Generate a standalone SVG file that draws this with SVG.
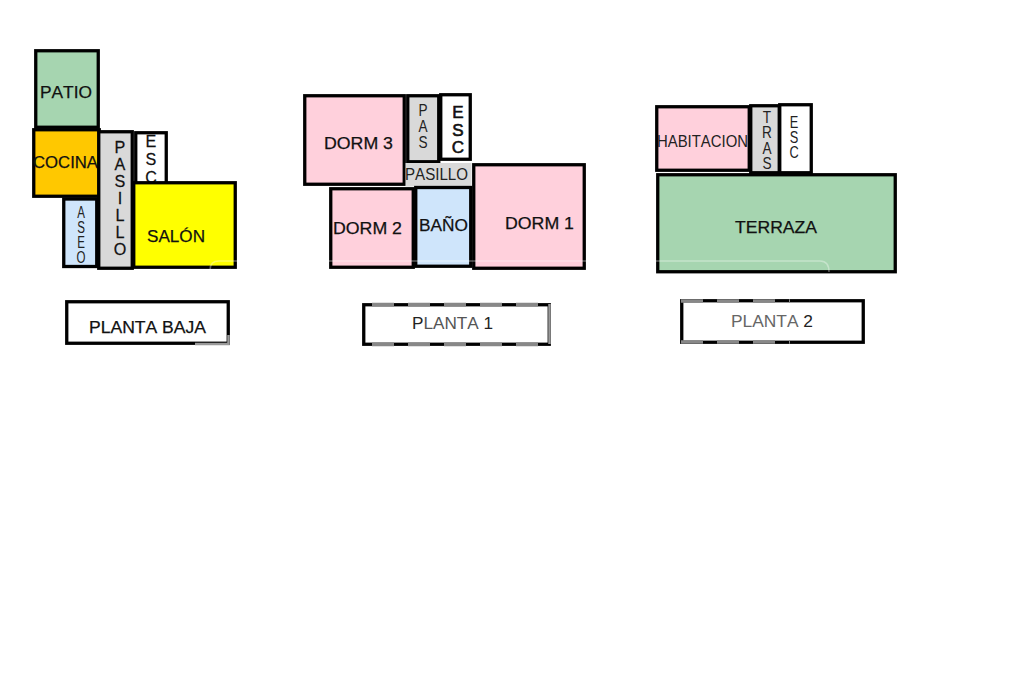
<svg xmlns="http://www.w3.org/2000/svg" width="1024" height="682" viewBox="0 0 1024 682">
<style>
.r{stroke:#000;stroke-width:3.300}
.t{font-family:"Liberation Sans",Arial,sans-serif;font-size:17px;fill:#111;stroke:#111;stroke-width:.25;font-kerning:none}
.l{font-size:16px;fill:#222;stroke:none}
.c{text-anchor:middle}
.patio{fill:#a6d5b0}.coc{fill:#ffc800}.gris{fill:#d9d9d9}.azul{fill:#cfe5fb}.sal{fill:#ffff00}.rosa{fill:#ffd0dc}.bl{fill:#fff}
.wm{fill:none;stroke:#fff;stroke-opacity:.35;stroke-width:1.500}
.d{fill:none;stroke:#888;stroke-width:3.300;stroke-dasharray:22 14}
</style>
<rect width="1024" height="682" fill="#fff"/>
<g id="planta-baja">
<g id="patio"><rect class="r patio" x="35.750" y="50.750" width="62.500" height="76.500"/><text class="t" x="40" y="98" textLength="52" lengthAdjust="spacingAndGlyphs">PATIO</text></g>
<g id="aseo"><rect class="r azul" x="63.750" y="199" width="33" height="67.500"/><text class="t l c" style="font-size:17px" transform="translate(81,0) scale(.68,1)"><tspan x="0" y="218">A</tspan><tspan x="0" y="233">S</tspan><tspan x="0" y="248">E</tspan><tspan x="0" y="263">O</tspan></text></g>
<g id="cocina"><rect class="r coc" x="33.750" y="129.750" width="65.500" height="66.500"/><text class="t" x="33" y="168" textLength="65" lengthAdjust="spacingAndGlyphs">COCINA</text></g>
<g id="pasillo-b"><rect class="r gris" x="98.750" y="131.750" width="33.500" height="136.500"/><text class="t c" transform="translate(120,0) scale(.95,1)"><tspan x="0" y="153">P</tspan><tspan x="0" y="170">A</tspan><tspan x="0" y="187">S</tspan><tspan x="0" y="204">I</tspan><tspan x="0" y="221">L</tspan><tspan x="0" y="238">L</tspan><tspan x="0" y="255">O</tspan></text></g>
<g id="esc-b"><rect class="r bl" x="135.750" y="132.750" width="30.500" height="60"/><text class="t c" transform="translate(151,0) scale(.95,1)"><tspan x="0" y="147">E</tspan><tspan x="0" y="165">S</tspan><tspan x="0" y="183">C</tspan></text></g>
<g id="salon"><rect class="r sal" x="133.750" y="182.750" width="101.500" height="84.500"/><text class="t" x="147" y="242" textLength="58" lengthAdjust="spacingAndGlyphs">SALÓN</text></g>
<g id="rotulo-b"><rect class="r bl" x="66.750" y="301.750" width="161.500" height="41.500"/><text class="t" x="89" y="333" textLength="117" lengthAdjust="spacingAndGlyphs">PLANTA BAJA</text></g>
</g>
<g id="planta-1">
<g id="dorm3"><rect class="r rosa" x="304.750" y="95.750" width="99.500" height="88.500"/><text class="t" x="324" y="149" textLength="69" lengthAdjust="spacingAndGlyphs">DORM 3</text></g>
<g id="pas"><rect class="r gris" x="407.750" y="95.750" width="31" height="66"/><text class="t l c" transform="translate(423,0) scale(.85,1)"><tspan x="0" y="116">P</tspan><tspan x="0" y="132">A</tspan><tspan x="0" y="148">S</tspan></text></g>
<g id="esc-1"><rect class="r bl" x="440.750" y="94.750" width="29.500" height="64.500"/><text class="t c" style="stroke-width:.6" transform="translate(458,0)"><tspan x="0" y="118">E</tspan><tspan x="0" y="136">S</tspan><tspan x="0" y="153">C</tspan></text></g>
<g id="pasillo-1"><rect class="gris" x="405.500" y="163" width="66" height="23.500"/><text class="t l" x="405" y="180" textLength="63" lengthAdjust="spacingAndGlyphs">PASILLO</text></g>
<g id="dorm2"><rect class="r rosa" x="330.750" y="188.750" width="82.500" height="78.500"/><text class="t" x="333" y="234" textLength="69" lengthAdjust="spacingAndGlyphs">DORM 2</text></g>
<g id="bano"><rect class="r azul" x="415.750" y="187.500" width="55" height="78.750"/><text class="t" x="419" y="231" textLength="49" lengthAdjust="spacingAndGlyphs">BAÑO</text></g>
<g id="dorm1"><rect class="r rosa" x="473.750" y="164.750" width="110.500" height="103.500"/><text class="t" x="505" y="229" textLength="69" lengthAdjust="spacingAndGlyphs">DORM 1</text></g>
<g id="rotulo-1"><rect class="r bl" x="363.750" y="304.750" width="185.500" height="39.500"/><text class="t l" x="412" y="329" textLength="81" lengthAdjust="spacingAndGlyphs">P<tspan fill="#555">LANTA</tspan> 1</text></g>
</g>
<g id="planta-2">
<g id="habitacion"><rect class="r rosa" x="656.750" y="106.750" width="92.500" height="63.500"/><text class="t l" x="657" y="147" textLength="91" lengthAdjust="spacingAndGlyphs">HABITACION</text></g>
<g id="tras"><rect class="r gris" x="750.750" y="105.750" width="28.500" height="67"/><text class="t l c" transform="translate(767,0) scale(.85,1)"><tspan x="0" y="123">T</tspan><tspan x="0" y="138">R</tspan><tspan x="0" y="154">A</tspan><tspan x="0" y="169">S</tspan></text></g>
<g id="esc-2"><rect class="r bl" x="779.750" y="104.750" width="31.500" height="68"/><text class="t l c" transform="translate(794,0) scale(.8,1)"><tspan x="0" y="128">E</tspan><tspan x="0" y="143">S</tspan><tspan x="0" y="158">C</tspan></text></g>
<g id="terraza"><rect class="r patio" x="657.750" y="174.750" width="237.500" height="97"/><text class="t" x="735" y="233" textLength="82" lengthAdjust="spacingAndGlyphs">TERRAZA</text></g>
<g id="rotulo-2"><rect class="r bl" x="681.750" y="300.750" width="181.500" height="41.500"/><text class="t l" x="731" y="327" textLength="82" lengthAdjust="spacingAndGlyphs"><tspan fill="#666">PLANTA</tspan> 2</text></g>
</g>
<path class="wm" d="M210 270Q210 261 219 261H820Q829 261 829 272"/>
<path class="d" d="M372 304.500H549M372 344.500H549"/>
<path class="d" d="M681 301H790M681 342H790"/>
<path d="M549.500 304V344M228.500 335V344H195" fill="none" stroke="#999" stroke-width="2.500"/>
</svg>
